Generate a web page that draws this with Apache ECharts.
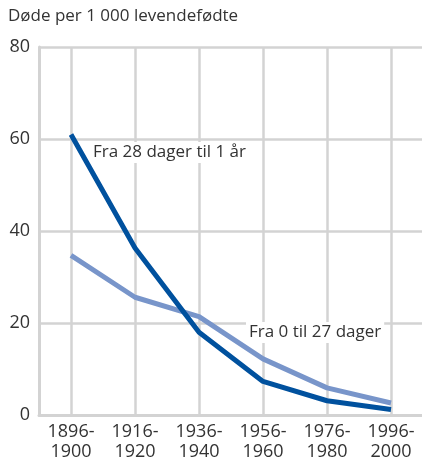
<!DOCTYPE html>
<html>
<head>
<meta charset="utf-8">
<script src="https://cdn.jsdelivr.net/npm/echarts@6/dist/echarts.min.js"></script>
<style>
  html, body { margin: 0; padding: 0; background: #fff; }
  #chart { width: 422px; height: 461px; }
</style>
</head>
<body>
<div id="chart"></div>
<script>
// periods on the x axis
var periods = ["1896-\n1900", "1916-\n1920", "1936-\n1940", "1956-\n1960", "1976-\n1980", "1996-\n2000"];
// deaths per 1 000 live births
var post = [61, 36.3, 18, 7.3, 3.1, 1.2];   // Fra 28 dager til 1 år
var neo = [34.7, 25.6, 21.4, 12.2, 5.9, 2.6]; // Fra 0 til 27 dager
var yTicks = [0, 20, 40, 60, 80];

var font = "'Open Sans', 'Noto Sans', sans-serif";
var grey = "#d3d3d3";

var myChart = echarts.init(document.getElementById("chart"));
var option = {
  animation: false,
  grid: { left: 39, right: -1, top: 47, bottom: 46, containLabel: false, outerBoundsMode: "none" },
  xAxis: {
    type: "category",
    data: periods,
    boundaryGap: true,
    axisLine: { show: true, lineStyle: { color: grey, width: 3 } },
    axisTick: {
      show: true, inside: true, alignWithLabel: true, length: 368,
      lineStyle: { color: grey, width: 2.5 }
    },
    splitLine: { show: false },
    axisLabel: {
      color: "#333", fontSize: 18, fontFamily: font, lineHeight: 20, margin: 7
    }
  },
  yAxis: {
    type: "value",
    min: yTicks[0],
    max: yTicks[yTicks.length - 1],
    interval: 20,
    axisLine: { show: true, lineStyle: { color: grey, width: 3 } },
    axisTick: { show: false },
    splitLine: { show: true, lineStyle: { color: grey, width: 2.5 } },
    axisLabel: { color: "#333", fontSize: 18, fontFamily: font, margin: 9 }
  },
  graphic: [
    { type: "text", left: 8, top: 8, z: 1,
      style: { text: "Døde per 1 000 levendefødte", fill: "#333", font: "17px " + font } },
    { type: "text", left: 90, top: 142, z: 1,
      style: { text: "Fra 28 dager til 1 år", fill: "#333", font: "17px " + font,
               backgroundColor: "#fff", padding: [2, 3] } },
    { type: "text", left: 246, top: 322, z: 1,
      style: { text: "Fra 0 til 27 dager", fill: "#333", font: "17px " + font,
               backgroundColor: "#fff", padding: [2, 3] } }
  ],
  series: [
    {
      name: "Fra 0 til 27 dager",
      type: "line",
      data: neo,
      symbol: "none",
      lineStyle: { color: "#7895ca", width: 5 },
      z: 3
    },
    {
      name: "Fra 28 dager til 1 år",
      type: "line",
      data: post,
      symbol: "none",
      lineStyle: { color: "#00519e", width: 5 },
      z: 4
    }
  ]
};
myChart.setOption(option);
window.addEventListener("resize", function () { myChart.resize(); });
</script>
</body>
</html>
